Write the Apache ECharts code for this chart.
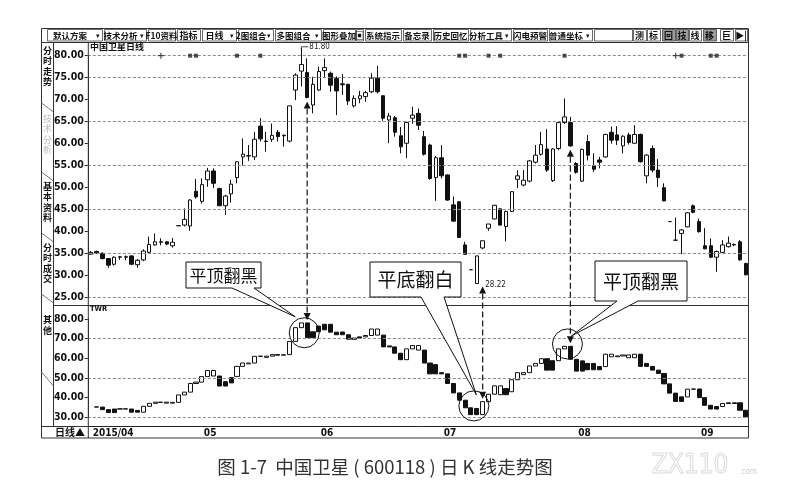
<!DOCTYPE html>
<html><head><meta charset="utf-8">
<script src="https://cdn.jsdelivr.net/npm/echarts@6/dist/echarts.min.js"></script>
<style>html,body{margin:0;padding:0;background:#fff}#c{width:790px;height:495px}</style>
</head><body><div id="c"></div>
<script>
// ---------------- data ----------------
const dates = [
'2015-04-03','2015-04-07','2015-04-08','2015-04-09','2015-04-10','2015-04-13','2015-04-14','2015-04-15','2015-04-16','2015-04-17',
'2015-04-20','2015-04-21','2015-04-22','2015-04-23','2015-04-24','2015-04-27','2015-04-28','2015-04-29','2015-04-30',
'2015-05-04','2015-05-05','2015-05-06','2015-05-07','2015-05-08','2015-05-11','2015-05-12','2015-05-13','2015-05-14','2015-05-15',
'2015-05-18','2015-05-19','2015-05-20','2015-05-21','2015-05-22','2015-05-25','2015-05-26','2015-05-27','2015-05-28','2015-05-29',
'2015-06-01','2015-06-02','2015-06-03','2015-06-04','2015-06-05','2015-06-08','2015-06-09','2015-06-10','2015-06-11','2015-06-12',
'2015-06-15','2015-06-16','2015-06-17','2015-06-18','2015-06-19','2015-06-23','2015-06-24','2015-06-25','2015-06-26','2015-06-29','2015-06-30',
'2015-07-01','2015-07-02','2015-07-03','2015-07-06','2015-07-07','2015-07-08','2015-07-09','2015-07-10','2015-07-13','2015-07-14',
'2015-07-15','2015-07-16','2015-07-17','2015-07-20','2015-07-21','2015-07-22','2015-07-23','2015-07-24','2015-07-27','2015-07-28',
'2015-07-29','2015-07-30','2015-07-31',
'2015-08-03','2015-08-04','2015-08-05','2015-08-06','2015-08-07','2015-08-10','2015-08-11','2015-08-12','2015-08-13','2015-08-14',
'2015-08-17','2015-08-18','2015-08-19','2015-08-20','2015-08-21','2015-08-24','2015-08-25','2015-08-26','2015-08-27','2015-08-28','2015-08-31',
'2015-09-01','2015-09-02','2015-09-07','2015-09-08','2015-09-09','2015-09-10','2015-09-11','2015-09-14','2015-09-15'
];
const openP = [
34.9,35.5,35.1,33.9,32.6,34.2,34.3,34.5,32.5,33.6,
35.3,37.0,37.7,37.7,36.8,41.36,41.5,41.3,49.2,46.9,
51.8,53.8,49.8,45.9,48.6,52.3,57.0,57.3,57.0,64.0,
60.6,61.0,62.6,61.9,60.6,72.2,76.5,76.2,68.8,72.2,
76.6,76.0,74.8,73.6,73.5,68.6,70.2,70.7,71.8,74.9,
70.9,65.4,65.9,61.8,60.1,65.8,66.9,61.6,59.7,52.3,
56.8,52.9,46.1,46.8,37.0,31.36,28.22,36.3,40.8,42.9,
45.2,41.2,44.6,51.9,50.6,51.5,55.8,57.6,58.8,51.6,
58.9,64.8,64.8,55.5,51.5,60.5,55.0,56.3,57.0,62.6,
62.0,59.5,62.0,60.1,62.1,52.7,58.9,54.0,50.0,42.3,
38.07,39.6,41.1,45.9,42.3,36.8,36.8,34.2,35.3,36.6,
37.1,37.7,32.8];
const closeP = [
35.3,35.2,33.9,32.4,34.2,34.3,34.2,32.6,33.5,35.6,
37.1,37.7,37.6,37.2,37.6,41.36,42.8,47.2,47.9,50.7,
53.8,51.0,45.9,48.1,50.8,55.9,57.6,57.2,61.0,61.1,
60.5,61.9,61.6,61.8,68.6,75.6,78.0,70.5,73.5,76.4,
77.3,73.3,72.0,73.4,69.7,70.3,70.9,71.6,74.9,71.8,
65.8,66.3,62.6,59.3,64.8,66.5,64.2,57.6,52.1,56.8,
52.7,47.2,42.4,38.7,34.84,31.36,34.5,37.95,41.75,46.0,
41.5,44.6,49.1,52.7,51.7,56.1,57.4,59.8,54.0,58.8,
64.8,66.1,59.5,53.5,58.7,57.4,54.2,55.8,62.1,60.8,
60.8,61.7,60.3,62.1,55.9,57.4,54.0,52.3,47.0,42.3,
38.07,40.4,44.3,44.4,40.0,36.1,34.2,35.5,37.0,37.4,
37.0,33.6,30.2];
const lowP = [
34.7,35.0,33.7,31.8,32.3,33.6,33.5,32.4,31.8,33.3,
35.0,36.8,36.9,37.0,36.4,41.36,41.2,40.2,47.5,46.4,
50.2,49.9,45.8,43.8,46.6,51.0,55.0,56.1,56.3,60.5,
58.2,60.4,60.5,59.3,60.3,69.9,73.0,70.3,66.9,72.0,
74.9,71.8,66.5,71.1,68.8,68.2,69.2,69.5,71.5,71.4,
65.2,60.1,61.6,57.8,56.7,64.5,63.1,57.3,51.8,47.0,
52.1,47.0,42.3,38.7,34.84,31.36,28.22,36.0,40.2,42.8,
41.4,37.8,44.5,49.9,50.3,51.2,55.5,57.3,53.6,51.3,
58.5,64.5,59.3,53.2,51.3,56.2,53.6,54.4,56.8,60.0,
59.7,57.8,59.8,60.0,55.7,51.0,53.5,50.2,46.9,42.3,
38.07,34.9,41.0,44.2,39.8,36.0,34.0,30.9,35.1,36.4,
36.7,33.4,30.1];
const highP = [
35.6,35.7,35.3,34.0,34.4,34.5,34.6,34.6,33.8,36.0,
38.9,39.6,38.5,37.9,38.6,41.36,45.3,47.4,52.0,52.1,
54.5,54.4,50.0,48.4,51.8,56.0,61.2,59.7,62.7,65.8,
62.7,64.6,63.1,62.1,68.7,76.0,81.8,79.4,75.2,77.5,
79.4,76.4,75.3,75.8,73.6,71.0,72.0,72.0,76.0,77.7,
71.0,67.0,66.3,63.8,65.0,68.4,68.0,62.9,60.0,57.2,
59.7,53.0,48.0,46.9,37.7,31.36,34.5,37.95,41.75,46.1,
45.3,44.8,49.2,54.0,54.0,56.3,59.7,62.7,63.3,59.0,
65.0,70.3,66.1,55.8,58.9,62.0,57.8,57.0,62.3,63.9,
64.0,61.9,62.5,64.2,62.3,57.6,59.6,56.5,51.0,42.3,
43.2,40.6,44.4,46.2,43.0,40.8,38.5,35.7,38.1,38.9,
37.3,38.1,32.9];
// TWR (tower line) blocks: bottom, top, 1 = white / 0 = black
const twrLo = [
null,35.2,33.9,32.4,32.4,34.2,34.2,32.6,32.6,32.6,
35.6,37.1,37.6,37.2,37.2,37.6,41.36,42.8,47.2,47.9,
50.7,51.0,45.9,45.9,47.5,50.8,55.9,57.2,57.6,61.0,
60.5,61.1,61.6,61.6,61.9,68.6,75.6,70.5,70.5,73.5,
74.5,73.3,72.0,72.0,69.7,69.7,70.3,70.9,71.6,71.8,
65.8,65.8,62.6,59.3,59.3,64.8,64.2,57.6,52.1,52.1,
52.1,47.2,42.4,38.7,34.84,31.36,31.36,31.36,37.95,41.75,
41.5,41.5,43.0,49.1,51.7,52.7,56.1,57.4,54.0,54.0,
58.8,64.8,59.5,53.5,53.5,54.2,54.2,54.2,55.8,60.8,
60.8,61.2,60.3,60.3,55.9,55.9,54.0,52.3,47.0,42.3,
38.07,38.07,40.4,44.3,40.0,36.1,34.2,34.2,35.5,37.0,
37.0,33.6,30.2];
const twrHi = [
null,35.3,35.2,33.9,34.2,34.3,34.3,34.2,33.5,35.6,
37.1,37.7,37.7,37.7,37.6,41.36,42.8,47.2,47.9,50.7,
53.8,53.8,51.0,48.1,50.2,55.9,57.6,57.6,61.0,61.1,
61.1,61.9,61.9,61.8,68.6,75.6,78.0,78.0,73.5,76.4,
77.3,77.3,73.3,73.4,72.0,70.3,70.9,71.6,74.9,74.9,
71.8,66.3,65.8,62.6,64.8,66.5,66.5,64.2,57.6,56.8,
52.7,52.1,47.2,42.4,38.7,34.84,34.5,37.95,41.75,46.0,
46.0,44.6,49.1,52.7,52.7,56.1,57.4,59.8,59.8,58.8,
64.8,66.1,66.1,59.5,58.7,57.4,57.4,55.8,62.1,62.1,
61.2,61.7,61.7,62.1,62.1,57.4,55.9,54.0,52.3,47.0,
42.3,40.4,44.3,44.4,44.4,40.0,36.1,35.5,37.0,37.4,
37.4,37.4,33.6];
const twrUp = [
null,0,0,0,0,0,0,0,0,1,
1,1,1,1,1,1,1,1,1,1,
1,1,0,0,0,1,1,1,1,1,
1,1,0,1,1,1,1,0,0,0,
0,0,0,0,0,0,0,1,1,1,
0,0,0,0,1,1,1,0,0,0,
0,0,0,0,0,0,0,1,1,1,
1,0,1,1,1,1,1,1,0,0,
1,1,0,0,0,0,0,0,1,1,
1,1,1,1,0,0,0,0,0,0,
0,0,1,1,0,0,0,0,1,1,
1,0,0];
const upperGridLines = [25,35,45,55,65,75,80];
const lowerGridLines = [30,50,70];
const mineSquares = [17,18,25,29,63,64,68,70,81,101,106,107];
const minePlus = [12,100];
const signalIdx = [37,67,82];           // bars where the tower line turns
const signalText = ['平顶翻黑','平底翻白','平顶翻黑'];
const peakIdx = 36, troughIdx = 66;
const circleBars = [[36,37],[65,66],[81,82]];
const circleVals = [73,35.8,67.3];

// ---------------- layout ----------------
const CJK = '"Noto Sans CJK SC","Noto Sans",sans-serif';
const NUM = '"Liberation Sans Narrow","DejaVu Sans Condensed","Liberation Sans",sans-serif';
const monthStart = dates.map((d,i)=> i===0 || d.slice(5,7)!==dates[i-1].slice(5,7));
const weekStart = dates.map(d=> new Date(d+'T12:00:00').getDay()===1);

const chart = echarts.init(document.getElementById('c'));
const candleData = dates.map((d,i)=>[openP[i],closeP[i],lowP[i],highP[i]]);
const twrData = dates.map((d,i)=> twrLo[i]==null ? '-' :
  (twrUp[i] ? [twrLo[i],twrHi[i],twrLo[i],twrHi[i]] : [twrHi[i],twrLo[i],twrLo[i],twrHi[i]]));
const candleStyle = {color:'#fff',color0:'#111',borderColor:'#111',borderColor0:'#111',borderColorDoji:'#111',borderWidth:1};
const gridLineStyle = {color:'#8a8a8a',type:[3,2],width:1};
const yLabel = {fontSize:10.5,fontWeight:'bold',color:'#111',fontFamily:NUM,margin:4,formatter:v=>v.toFixed(2)};

chart.setOption({
  animation:false,
  backgroundColor:'#fff',
  grid:[{left:87.8,width:661,top:55.7,height:242},{left:87.8,width:661,top:319,height:98.3}],
  xAxis:[
    {type:'category',gridIndex:0,data:dates,boundaryGap:true,show:false},
    {type:'category',gridIndex:1,data:dates,boundaryGap:true,offset:8.7,
     axisLine:{lineStyle:{color:'#222',width:1}},
     axisTick:{alignWithLabel:true,length:11,interval:(i)=>monthStart[i],lineStyle:{color:'#222'}},
     axisLabel:{interval:(i)=>monthStart[i],align:'left',margin:2,padding:[0,0,0,2],fontSize:10,fontWeight:'bold',color:'#111',fontFamily:NUM,
       formatter:(v,i)=> i===0 ? v.slice(0,4)+'/'+v.slice(5,7) : v.slice(5,7)}},
    {type:'category',gridIndex:1,data:dates,boundaryGap:true,offset:8.7,axisLine:{show:false},
     axisTick:{alignWithLabel:true,length:3,interval:(i)=>weekStart[i]&&!monthStart[i],lineStyle:{color:'#222'}},
     axisLabel:{show:false}}
  ],
  yAxis:[
    {type:'value',gridIndex:0,min:25,max:80,interval:5,axisLine:{show:true,lineStyle:{color:'#222'}},
     axisTick:{show:true,length:3,lineStyle:{color:'#222'}},splitLine:{show:false},axisLabel:yLabel},
    {type:'value',gridIndex:1,min:30,max:80,interval:10,axisLine:{show:true,lineStyle:{color:'#222'}},
     axisTick:{show:true,length:3,lineStyle:{color:'#222'}},splitLine:{show:false},axisLabel:yLabel}
  ],
  series:[
    {type:'candlestick',xAxisIndex:0,yAxisIndex:0,data:candleData,barWidth:4,clip:false,itemStyle:candleStyle,
     markLine:{silent:true,symbol:['none','none'],label:{show:false},lineStyle:gridLineStyle,
       data:upperGridLines.map(v=>({yAxis:v}))}},
    {type:'candlestick',xAxisIndex:1,yAxisIndex:1,data:twrData,barWidth:4.6,itemStyle:candleStyle,
     markLine:{silent:true,symbol:['none','none'],label:{show:false},lineStyle:gridLineStyle,
       data:lowerGridLines.map(v=>({yAxis:v}))}},
    {type:'scatter',xAxisIndex:0,yAxisIndex:0,data:mineSquares.map(i=>[i,80]),symbol:'rect',symbolSize:4,itemStyle:{color:'#222'},z:5},
    {type:'scatter',xAxisIndex:0,yAxisIndex:0,data:minePlus.map(i=>[i,80]),symbol:'path://M2,0h1v2h2v1h-2v2h-1v-2h-2v-1h2z',symbolSize:6,itemStyle:{color:'#222'},z:5}
  ]
});

// ---------------- decorations (frame, toolbar, annotations) ----------------
const g = [];
const L = (x1,y1,x2,y2,w,c,dash)=>g.push({type:'line',z:50,silent:true,shape:{x1,y1,x2,y2},style:{stroke:c||'#333',lineWidth:w||1,lineDash:dash||null}});
const T = (text,x,y,o)=>g.push({type:'text',z:60,silent:true,style:Object.assign({text,x,y,fill:'#111',fontSize:9,fontFamily:CJK,align:'left',verticalAlign:'middle'},o||{})});

// frame
g.push({type:'rect',z:49,silent:true,shape:{x:41.5,y:28.5,width:707,height:409.5},style:{fill:'none',stroke:'#333',lineWidth:1}});
L(41.5,42.5,748.5,42.5);
L(53.5,42.5,53.5,426.5);
L(88.3,42.5,88.3,438);
L(53.5,305.5,748.5,305.5);
L(41.5,426.5,88.3,426.5);
[[103,112],[172,181],[233,242],[294,303],[372,386]].forEach(([a,b])=>L(41.5,a,53.5,b,0.8,'#555'));
// left tabs
const vt = s=>s.split('').join('\n');
T(vt('分时走势'),47.5,66,{align:'center',fontSize:9,lineHeight:10.5,fontWeight:'bold'});
T(vt('技术分析'),47.5,134,{align:'center',fontSize:9,lineHeight:10.5,fill:'#bbb'});
T(vt('基本资料'),47.5,202,{align:'center',fontSize:9,lineHeight:10.5,fontWeight:'bold'});
T(vt('分时成交'),47.5,263,{align:'center',fontSize:9,lineHeight:10.5,fontWeight:'bold'});
T(vt('其他'),47.5,325,{align:'center',fontSize:9,lineHeight:10.5,fontWeight:'bold'});
// toolbar
const toolbar = [
 ['默认方案',47,102,1],['技术分析',104,146,1],['F10资料',148,175,0],['指标',177,200,0],['日线',202,236,1],
 ['2图组合',238,273,1],['多图组合',275,321,1],['图形叠加',323,355,0],['▣',356,363,0],['系统指示',365,401,0],
 ['备忘录',403,431,0],['历史回忆',433,468,0],['分析工具',470,511,1],['闪电预警',513,547,0],['普通坐标',549,592,1],
 ['',594,632,0],['测',633,646,0],['标',647,660,0],['回',662,675,2],['技',676,688,2],['线',689,701,0],
 ['移',703,716,2],['巨',720,733,0],['▶|',735,747,0]];
toolbar.forEach(([t,x0,x1,k])=>{
  g.push({type:'rect',z:55,silent:true,shape:{x:x0+0.5,y:29.5,width:x1-x0,height:11.5},style:{fill:k===2?'#9a9a9a':'#fff',stroke:'#444',lineWidth:0.8}});
  const cx = (x0 + x1 - (k===1?9:0))/2;
  if(t) T(t,cx,35.5,{align:'center',fontSize:t.length>2?8.5:9,fontWeight:'bold',fill:'#111'});
  if(k===1){ L(x1-8,31,x1-8,40,0.8,'#444'); T('▾',x1-4,35.5,{align:'center',fontSize:7}); }
});
// panel titles
T('中国卫星日线',90,47,{fontSize:9,fontWeight:'bold'});
T('TWR',90,309.5,{fontSize:7.5,fontWeight:'bold',fontFamily:NUM});
T('日线▲',55,432.5,{fontSize:10,fontWeight:'bold'});

// data-anchored annotations
const P = (gi,i,v)=>chart.convertToPixel({gridIndex:gi},[i,v]);
const trough = Math.min(...lowP);
const upperAnchor = [lowP[signalIdx[0]], trough, lowP[signalIdx[2]]];
signalIdx.forEach((idx,k)=>{
  const pu = P(0,idx,upperAnchor[k]);
  const pl = P(1,idx,twrHi[idx]);
  const x = pu[0];
  const ut = pu[1]+3, lt = pl[1]-3;
  g.push({type:'polygon',z:58,silent:true,shape:{points:[[x,ut],[x-3.5,ut+7],[x+3.5,ut+7]]},style:{fill:'#111'}});
  g.push({type:'polygon',z:58,silent:true,shape:{points:[[x,lt],[x-3.5,lt-7],[x+3.5,lt-7]]},style:{fill:'#111'}});
  L(x,ut+7,x,lt-7,1.3,'#222',[6,3]);
});
// peak / trough labels
const pk = P(0,peakIdx,highP[peakIdx]);
L(pk[0],pk[1]+2,pk[0],pk[1]-1,0.8,'#222'); L(pk[0],pk[1]-1,pk[0]+7,pk[1]-1,0.8,'#222');
T(highP[peakIdx].toFixed(2),pk[0]+8,pk[1]-1,{fontSize:8,fontFamily:NUM,fill:'#222'});
const tr = P(0,troughIdx,trough);
T(trough.toFixed(2),tr[0]+8.5,tr[1]+1.5,{fontSize:8,fontFamily:NUM,fill:'#222'});
// circles + callouts
const callouts = [
  {box:[186,262,261,288],wedge:[232,254],off:[-9,-16],size:17},
  {box:[370,262,461,297],wedge:[421,444],off:[2.5,-11],size:19},
  {box:[595,261,687,301],wedge:[617,638],off:[4,-8],size:19}];
circleBars.forEach((bars,k)=>{
  const a = P(1,bars[0],circleVals[k]), b = P(1,bars[1],circleVals[k]);
  const cx = (a[0]+b[0])/2, cy = a[1];
  g.push({type:'circle',z:57,silent:true,shape:{cx,cy,r:15},style:{fill:'none',stroke:'#111',lineWidth:1}});
  const c = callouts[k], [x0,y0,x1,y1] = c.box, ax = cx+c.off[0], ay = cy+c.off[1];
  g.push({type:'polygon',z:70,silent:true,shape:{points:[[x0,y0],[x1,y0],[x1,y1],[c.wedge[1],y1],[ax,ay],[c.wedge[0],y1],[x0,y1]]},
    style:{fill:'#fff',stroke:'#111',lineWidth:1}});
  T(signalText[k],(x0+x1)/2,(y0+y1)/2+0.5,{align:'center',fontSize:c.size,fill:'#111'});
  g[g.length-1].z = 71;
});
// caption & watermark
T('图 1-7  中国卫星 ( 600118 ) 日 K 线走势图',385,467,{align:'center',fontSize:18.5,fill:'#333'});
T('ZX110',690,466,{align:'center',fontSize:26,fill:'none',stroke:'#dcdcdc',lineWidth:1,fontFamily:NUM});
T('.com',748,472,{align:'center',fontSize:8,fill:'#ccc',fontFamily:NUM});

chart.setOption({graphic:g});
</script>
</body></html>
